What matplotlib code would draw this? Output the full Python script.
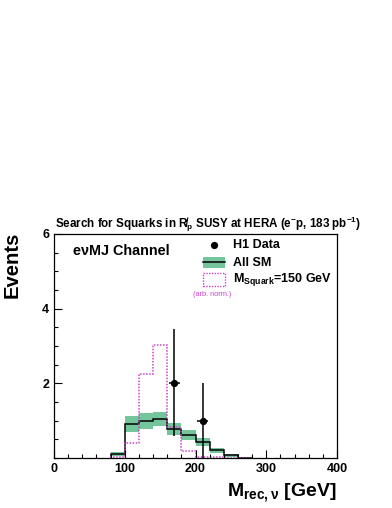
import numpy as np
import matplotlib.pyplot as plt

# bin edges (GeV) and contents
edges = [80, 100, 120, 140, 160, 180, 200, 220, 240, 260, 280]
sm = [0.11, 0.91, 1.0, 1.05, 0.77, 0.61, 0.43, 0.21, 0.07, 0.01]
sm_err = [0.05, 0.22, 0.21, 0.19, 0.16, 0.13, 0.11, 0.07, 0.03, 0.01]
squark = [0.04, 0.39, 2.25, 3.04, 0.82, 0.2, 0.03, 0.02, 0.0, 0.0]

data_x = [170, 210]
data_y = [2, 1]
data_lo = [1.4, 1.0]
data_hi = [1.45, 1.0]

green = '#74c49c'
magenta = '#cc44cc'

plt.rcParams['font.family'] = ['Liberation Sans', 'DejaVu Sans']
plt.rcParams['font.weight'] = 'bold'
plt.rcParams['mathtext.fontset'] = 'custom'
plt.rcParams['mathtext.rm'] = 'Liberation Sans:bold'
plt.rcParams['mathtext.it'] = 'Liberation Sans:bold'
plt.rcParams['mathtext.bf'] = 'Liberation Sans:bold'

fig = plt.figure(figsize=(3.92, 5.08), dpi=100)
ax = fig.add_axes([54 / 392, 50 / 508, 283 / 392, 224 / 508])

lo = np.array(sm) - np.array(sm_err)
hi = np.array(sm) + np.array(sm_err)
ax.stairs(hi, edges, baseline=lo, fill=True, color=green, lw=0)
ax.stairs(sm, edges, baseline=0, color='black', lw=1.1)
ax.stairs(squark, edges, baseline=0, color=magenta, lw=1.1, linestyle=(0, (1, 1)))

ax.errorbar(data_x, data_y, yerr=[data_lo, data_hi], xerr=8, fmt='o', color='black',
            ms=4.2, elinewidth=1.1, capsize=0)

ax.set_xlim(0, 400)
ax.set_ylim(0, 6)
ax.set_xticks([0, 100, 200, 300, 400])
ax.set_xticks(np.arange(0, 401, 20), minor=True)
ax.set_yticks([2, 4, 6])
ax.set_yticks(np.arange(0, 6.01, 0.5), minor=True)
ax.tick_params(which='both', direction='in', labelsize=9, width=0.8)
ax.tick_params(which='major', length=6)
ax.tick_params(which='minor', length=3)
for s in ax.spines.values():
    s.set_linewidth(0.9)

ax.text(0.066, 0.906, 'e\u03bdMJ Channel', transform=ax.transAxes, fontsize=10.4,
        fontweight='bold', va='baseline')

# legend drawn by hand
fig.lines.append(plt.Line2D([214 / 392], [1 - 245 / 508], transform=fig.transFigure,
                            marker='o', ms=4.2, color='black', lw=0))
fig.patches.append(plt.Rectangle((203 / 392, 1 - 268 / 508), 22 / 392, 11 / 508,
                                 transform=fig.transFigure, color=green, lw=0))
fig.lines.append(plt.Line2D([203 / 392, 225 / 392], [1 - 262 / 508, 1 - 262 / 508],
                            transform=fig.transFigure, color='black', lw=1.1))
fig.patches.append(plt.Rectangle((203 / 392, 1 - 286 / 508), 22 / 392, 13 / 508,
                                 transform=fig.transFigure, fill=False, ec=magenta,
                                 lw=1.0, linestyle=(0, (1, 1))))
fig.text(233 / 392, 1 - 248 / 508, 'H1 Data', fontsize=9, va='baseline')
fig.text(233 / 392, 1 - 266 / 508, 'All SM', fontsize=9, va='baseline')
fig.text(233 / 392, 1 - 282 / 508, r'M$_{\mathrm{Squark}}$=150 GeV', fontsize=9, va='baseline')
fig.text(212 / 392, 1 - 296 / 508, '(arb. norm.)', fontsize=5.3, color=magenta,
         ha='center', va='baseline', fontweight='normal')

fig.text(55 / 392, 1 - 228 / 508,
         'Search for Squarks in R\u0338$_{\\mathrm{p}}$ SUSY at HERA (e$^{\\mathrm{-}}$p, 183 pb$^{\\mathrm{-1}}$)',
         fontsize=8.4, va='baseline')

fig.text(3 / 392, 1 - 232 / 508, 'Events', rotation=90, fontsize=14.6, ha='left', va='top')
fig.text(337 / 392, 1 - 497 / 508, r'M$_{\mathrm{rec,\nu}}$ [GeV]', fontsize=14, ha='right',
         va='baseline')

fig.savefig('out.png', dpi=100)
